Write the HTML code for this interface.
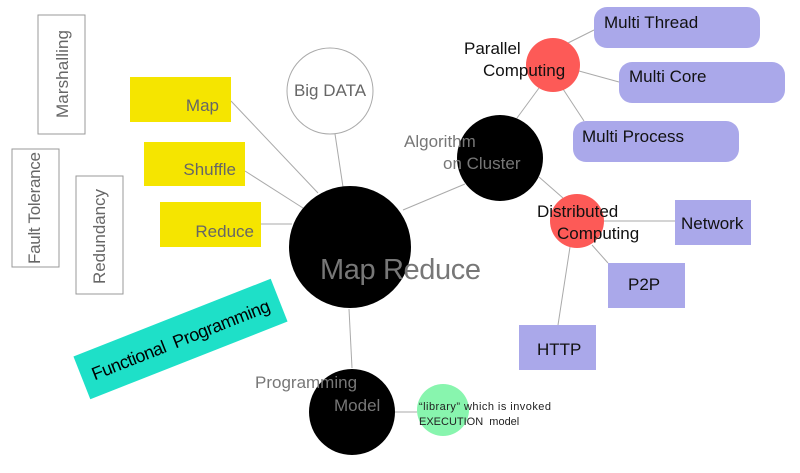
<!DOCTYPE html>
<html><head><style>body{margin:0;background:#fff}svg{display:block}</style></head><body>
<svg width="800" height="473" viewBox="0 0 800 473" xmlns="http://www.w3.org/2000/svg" font-family="Liberation Sans, DejaVu Sans, sans-serif">
<g stroke="#aaa" stroke-width="1" fill="none">
<line x1="231" y1="101" x2="318" y2="193"/>
<line x1="245" y1="171" x2="303" y2="208"/>
<line x1="261" y1="224" x2="292" y2="224"/>
<line x1="335" y1="134" x2="343" y2="187"/>
<line x1="349" y1="309" x2="352" y2="368"/>
<line x1="395" y1="412" x2="417" y2="412"/>
<line x1="403" y1="210" x2="465" y2="184"/>
<line x1="517" y1="118" x2="539" y2="88"/>
<line x1="568" y1="43" x2="594" y2="30"/>
<line x1="579" y1="71" x2="619" y2="82"/>
<line x1="563" y1="89" x2="584" y2="121"/>
<line x1="539" y1="177" x2="563" y2="198"/>
<line x1="603" y1="221" x2="675" y2="221"/>
<line x1="592" y1="245" x2="608" y2="263"/>
<line x1="570" y1="247" x2="558" y2="325"/>
</g>
<g fill="#fff" stroke="#999">
<rect x="38" y="15" width="47" height="119"/>
<rect x="12" y="149" width="47" height="118"/>
<rect x="76" y="176" width="47" height="118"/>
</g>
<g fill="#666" font-size="17">
<text transform="translate(68,118) rotate(-90)" textLength="88">Marshalling</text>
<text transform="translate(40,264) rotate(-90)" textLength="112">Fault Tolerance</text>
<text transform="translate(105,284) rotate(-90)" textLength="95">Redundancy</text>
</g>
<g fill="#f5e500">
<rect x="130" y="77" width="101" height="45"/>
<rect x="144" y="142" width="101" height="44"/>
<rect x="160" y="202" width="101" height="45"/>
</g>
<g fill="#666" font-size="17" text-anchor="end">
<text x="219" y="111">Map</text>
<text x="236" y="175">Shuffle</text>
<text x="254" y="237">Reduce</text>
</g>
<circle cx="330" cy="91" r="43" fill="#fff" stroke="#aaa"/>
<text x="330" y="96" font-size="17" fill="#666" text-anchor="middle">Big DATA</text>
<circle cx="350" cy="247" r="61" fill="#000"/>
<text x="320" y="279" font-size="29" fill="#777" textLength="161">Map Reduce</text>
<g transform="translate(180.5,339) rotate(-21.5)">
<rect x="-106" y="-23" width="212" height="46" fill="#1ee0c8"/>
<text x="0" y="7" font-size="18" fill="#000" text-anchor="middle" xml:space="preserve" textLength="190">Functional  Programming</text>
</g>
<circle cx="352" cy="412" r="43" fill="#000"/>
<text x="255" y="388" font-size="17" fill="#777">Programming</text>
<text x="334" y="411" font-size="17" fill="#777">Model</text>
<circle cx="443" cy="410" r="26" fill="#88f5ae"/>
<text x="419" y="410" font-size="11" fill="#222" textLength="132">“library” which is invoked</text>
<text x="419" y="425" font-size="11" fill="#222" xml:space="preserve">EXECUTION  model</text>
<circle cx="500" cy="158" r="43" fill="#000"/>
<text x="404" y="147" font-size="17" fill="#777">Algorithm</text>
<text x="443" y="169" font-size="17" fill="#777">on Cluster</text>
<circle cx="553" cy="65" r="27" fill="#fd5a57"/>
<circle cx="577" cy="221" r="27" fill="#fd5a57"/>
<g fill="#aaa8ea">
<rect x="594" y="7" width="166" height="41" rx="13"/>
<rect x="619" y="62" width="166" height="41" rx="13"/>
<rect x="573" y="121" width="166" height="41" rx="13"/>
<rect x="675" y="200" width="76" height="45"/>
<rect x="608" y="263" width="77" height="45"/>
<rect x="519" y="325" width="77" height="45"/>
</g>
<g fill="#111" font-size="17">
<text x="464" y="54">Parallel</text>
<text x="483" y="76">Computing</text>
<text x="537" y="217">Distributed</text>
<text x="557" y="239">Computing</text>
<text x="604" y="28">Multi Thread</text>
<text x="629" y="82">Multi Core</text>
<text x="582" y="142">Multi Process</text>
<text x="681" y="229">Network</text>
<text x="628" y="290">P2P</text>
<text x="537" y="355">HTTP</text>
</g>
</svg>
</body></html>
